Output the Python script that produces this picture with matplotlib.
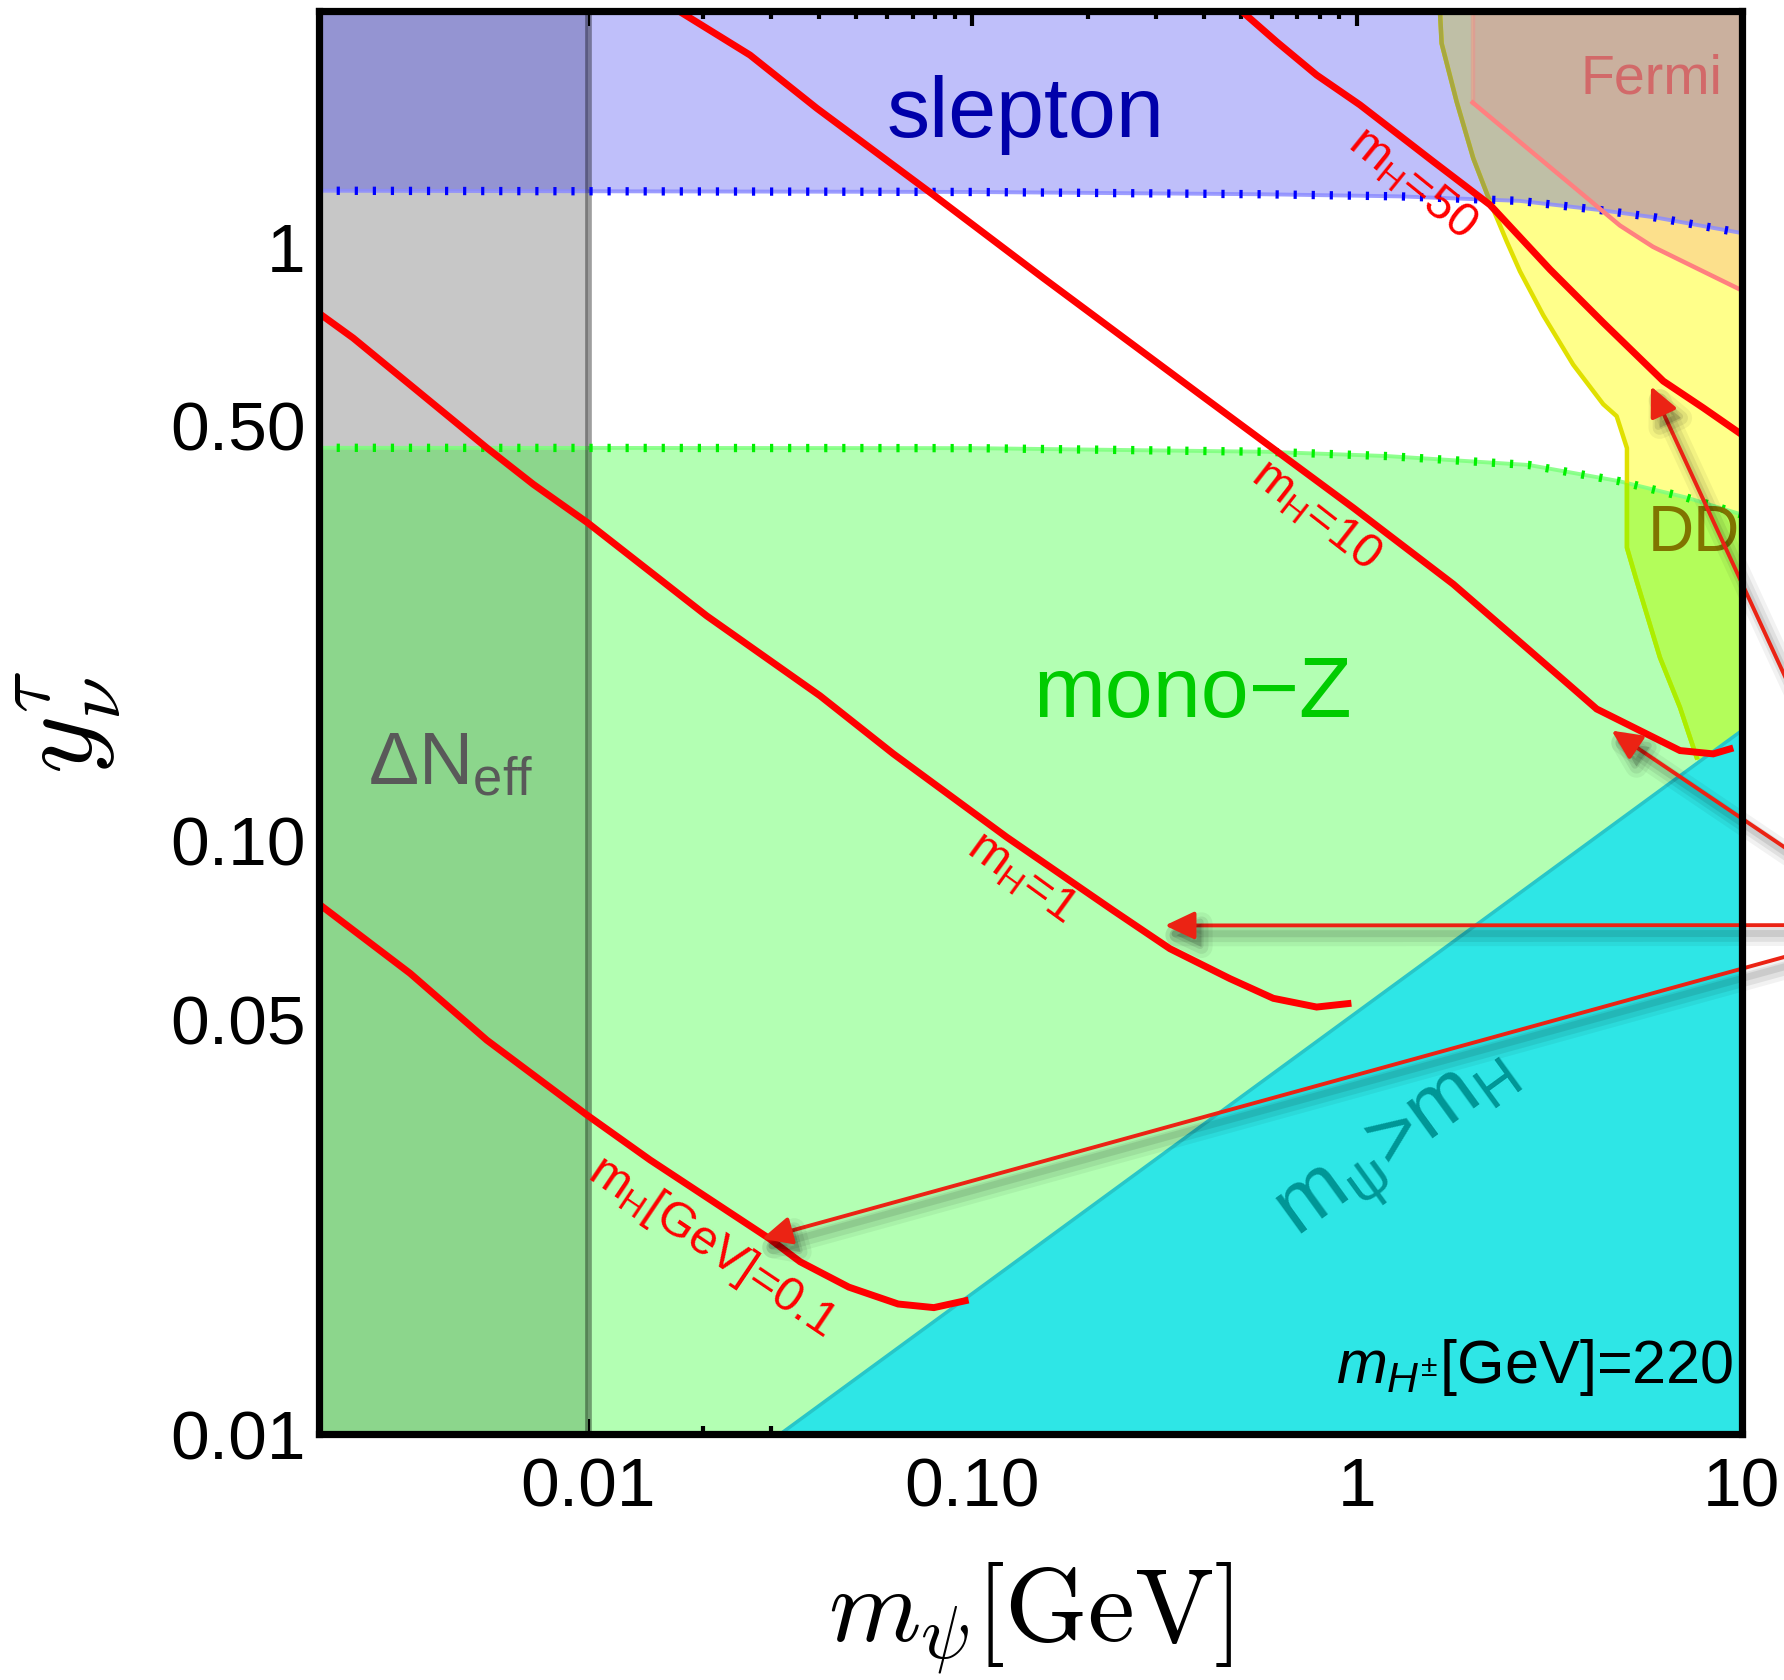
import matplotlib
matplotlib.use('Agg')
import matplotlib.pyplot as plt
from matplotlib.patches import Polygon, FancyArrowPatch
from matplotlib.ticker import FixedLocator, FixedFormatter, NullFormatter
import matplotlib.patheffects as pe
import numpy as np

plt.rcParams['font.family'] = ['Liberation Sans', 'DejaVu Sans']
plt.rcParams['mathtext.fontset'] = 'custom'
plt.rcParams['mathtext.rm'] = 'Liberation Sans'
plt.rcParams['mathtext.it'] = 'Liberation Sans:italic'
plt.rcParams['mathtext.bf'] = 'Liberation Sans:bold'
plt.rcParams['lines.scale_dashes'] = False

# ---------------- data ----------------
x_major = [0.01, 0.1, 1, 10]
x_major_labels = ['0.01', '0.10', '1', '10']
x_minor = [0.003, 0.004, 0.005, 0.006, 0.007, 0.008, 0.009,
           0.02, 0.03, 0.04, 0.05, 0.06, 0.07, 0.08, 0.09,
           0.2, 0.3, 0.4, 0.5, 0.6, 0.7, 0.8, 0.9,
           2, 3, 4, 5, 6, 7, 8, 9]
y_major = [0.01, 0.05, 0.1, 0.5, 1]
y_major_labels = ['0.01', '0.05', '0.10', '0.50', '1']
y_minor = [0.02, 0.03, 0.04, 0.06, 0.07, 0.08, 0.09,
           0.2, 0.3, 0.4, 0.6, 0.7, 0.8, 0.9, 2]

# slepton bound (region above)
slepton_x = [0.002, 0.1, 0.58, 1.3, 2.65, 4.3, 6.0, 10]
slepton_y = [1.243, 1.237, 1.226, 1.216, 1.195, 1.153, 1.12, 1.055]

# mono-Z bound (region below)
monoz_x = [0.002, 0.1, 0.58, 1.2, 2.8, 4.8, 7.2, 10]
monoz_y = [0.4586, 0.458, 0.4516, 0.4441, 0.429, 0.403, 0.378, 0.354]

# Delta N_eff bound (region left of)
dneff_x = 0.01

# m_psi > m_H line (region below/right)
mpsi_x = [0.0317, 10]
mpsi_y = [0.01, 0.153]

# direct detection boundary (region to the right)
dd_x = [1.644, 1.661, 1.817, 2.007, 2.218, 2.452, 2.655, 3.051, 3.651, 4.37,
        4.735, 5.036, 5.036, 5.337, 6.136, 6.918, 7.644]
dd_y = [2.5, 2.201, 1.756, 1.410, 1.192, 1.021, 0.909, 0.767, 0.633, 0.543,
        0.5185, 0.458, 0.3113, 0.2737, 0.2033, 0.1675, 0.138]

# Fermi boundary (region to the upper right)
fermi_x = [2.0, 2.0, 4.83, 5.886, 10]
fermi_y = [2.5, 1.75, 1.086, 1.0, 0.845]

# m_H contours
mh01_x = [0.002, 0.00346, 0.00547, 0.00995, 0.01454, 0.02961, 0.0357, 0.0478, 0.0642, 0.0795, 0.0959]
mh01_y = [0.0782, 0.0597, 0.0461, 0.0345, 0.02896, 0.02137, 0.01951, 0.01768, 0.01656, 0.01633, 0.01677]

mh1_x = [0.002, 0.00246, 0.00547, 0.00723, 0.01, 0.0204, 0.0402, 0.0624, 0.1229, 0.2327,
         0.3267, 0.4678, 0.6065, 0.786, 0.948]
mh1_y = [0.7736, 0.702, 0.4586, 0.398, 0.343, 0.239, 0.1753, 0.1399, 0.1013, 0.0762,
         0.0657, 0.0585, 0.0542, 0.0524, 0.0531]

mh10_x = [0.0172, 0.02645, 0.03943, 0.0792, 0.153, 0.391, 0.9786, 1.781, 2.818, 4.202, 6.918, 8.44, 9.33]
mh10_y = [2.5, 2.104, 1.712, 1.2236, 0.886, 0.564, 0.3634, 0.2702, 0.2087, 0.1665, 0.1417, 0.1399, 0.1426]

mh50_x = [0.50, 0.6187, 0.786, 1.019, 1.58, 2.218, 3.177, 4.37, 6.26, 7.95, 10]
mh50_y = [2.5, 2.215, 1.947, 1.734, 1.392, 1.177, 0.916, 0.745, 0.594, 0.5355, 0.483]

# arrows: common origin (off the figure to the right) and tips on the curves
arrow_origin = (25.8, 0.072)
arrow_tips_x = [5.815, 4.595, 0.3171, 0.02842]
arrow_tips_y = [0.582, 0.1531, 0.0719, 0.02133]

# ---------------- figure ----------------
fig = plt.figure(figsize=(17.84, 16.8), dpi=100)
ax = fig.add_axes([0.1786, 0.1464, 0.7976, 0.8473])
ax.set_xscale('log')
ax.set_yscale('log')
ax.set_xlim(0.002, 10)
ax.set_ylim(0.01, 2.5)

XL, XR, YB, YT = 1e-4, 100.0, 1e-4, 100.0


def mkpoly(pts, **kw):
    return Polygon(np.asarray(pts), closed=True, transform=ax.transData, **kw)


slep_pts = [(XL, slepton_y[0])] + list(zip(slepton_x, slepton_y)) + [(XR, slepton_y[-1]), (XR, YT), (XL, YT)]
monoz_pts = [(XL, monoz_y[0])] + list(zip(monoz_x, monoz_y)) + [(XR, monoz_y[-1]), (XR, YB), (XL, YB)]
strip_pts = [(XL, YB), (dneff_x, YB), (dneff_x, YT), (XL, YT)]
dd_pts = [(dd_x[0], YT)] + list(zip(dd_x, dd_y)) + [(XR, YB), (XR, YT)]
fermi_pts = [(fermi_x[0], YT)] + list(zip(fermi_x, fermi_y)) + [(XR, fermi_y[-1]), (XR, YT)]
cyan_pts = [(mpsi_x[0], mpsi_y[0]), (mpsi_x[1], mpsi_y[1]), (XR, mpsi_y[1]), (XR, YB), (mpsi_x[0], YB)]


def add_fill(pts, color, z, clip=None):
    p = mkpoly(pts, fc=color, ec='none', lw=0, zorder=z)
    ax.add_patch(p)
    if clip is not None:
        p.set_clip_path(mkpoly(clip))
    return p


# base regions
add_fill(slep_pts, '#bfbffa', 1)
add_fill(monoz_pts, '#b3ffb3', 1)
# Delta N_eff strip
add_fill(strip_pts, '#c7c7c7', 2)
add_fill(strip_pts, '#9494d2', 2.1, clip=slep_pts)
add_fill(strip_pts, '#8cd68c', 2.1, clip=monoz_pts)
# DD region
add_fill(dd_pts, '#ffff8a', 2)
add_fill(dd_pts, '#bfbfa6', 2.1, clip=slep_pts)
add_fill(dd_pts, '#b3fd5a', 2.1, clip=monoz_pts)
# Fermi region
add_fill(fermi_pts, '#fce08c', 2.3)
add_fill(fermi_pts, '#cab09e', 2.4, clip=slep_pts)

# boundary lines
ax.plot(slepton_x, slepton_y, color='#8c8cff', lw=2.8, alpha=0.85, zorder=3)
ax.plot(slepton_x, slepton_y, color='#0000ff', lw=6, dashes=(2.3, 10.7),
        dash_capstyle='butt', zorder=3.1)
ax.plot(monoz_x, monoz_y, color='#7dff7d', lw=2.8, alpha=0.85, zorder=3)
ax.plot(monoz_x, monoz_y, color='#00f000', lw=6, dashes=(2.3, 10.7),
        dash_capstyle='butt', zorder=3.1)
ax.axvline(dneff_x, color='k', alpha=0.38, lw=4.8, zorder=3)

ax.plot(dd_x, dd_y, color='#e0e000', lw=3.2, zorder=3)
l2, = ax.plot(dd_x, dd_y, color='#a8a840', lw=3.2, zorder=3.05)
l2.set_clip_path(mkpoly(slep_pts))
l3, = ax.plot(dd_x, dd_y, color='#aaee00', lw=3.2, zorder=3.05)
l3.set_clip_path(mkpoly(monoz_pts))

ax.plot(fermi_x[1:], fermi_y[1:], color='#ff8080', lw=3.2, zorder=3.2)
ax.plot(fermi_x[:2], fermi_y[:2], color='#ff8080', lw=3.2, alpha=0.35, zorder=3.2)

# m_psi > m_H region
add_fill(cyan_pts, '#2ee6e6', 4)
ax.plot(mpsi_x, mpsi_y, color='#28c6c8', lw=2.5, zorder=4.1)

# m_H contours
for cx, cy in [(mh01_x, mh01_y), (mh1_x, mh1_y), (mh10_x, mh10_y), (mh50_x, mh50_y)]:
    ax.plot(cx, cy, color='#ff0000', lw=5.0, zorder=5, solid_joinstyle='miter')

# contour labels
lab_kw = dict(color='#ff0000', fontsize=35, ha='center', va='center',
              rotation_mode='anchor', zorder=6)
ax.text(1.391, 1.278, r'$\mathrm{m}_{\mathrm{H}}$=50', rotation=-39, **lab_kw)
ax.text(0.781, 0.3534, r'$\mathrm{m}_{\mathrm{H}}$=10', rotation=-38, **lab_kw)
ax.text(0.1345, 0.0866, r'$\mathrm{m}_{\mathrm{H}}$=1', rotation=-36, **lab_kw)
ax.text(0.02107, 0.02068, r'$\mathrm{m}_{\mathrm{H}}$[GeV]=0.1', rotation=-34, **lab_kw)

# region labels
ax.text(0.3988, 0.9111, 'slepton', transform=ax.transAxes, color='#0000aa',
        fontsize=62, ha='left', va='baseline', zorder=6)
ax.text(0.5021, 0.5039, 'mono\u2212Z', transform=ax.transAxes, color='#00cc00',
        fontsize=62, ha='left', va='baseline', zorder=6)
ax.text(0.0347, 0.4566, r'$\mathrm{\Delta N}_{\mathrm{eff}}$', transform=ax.transAxes,
        color='#595959', fontsize=54, ha='left', va='baseline', zorder=6)
ax.text(0.8866, 0.9420, 'Fermi', transform=ax.transAxes, color='#d26969',
        fontsize=40, ha='left', va='baseline', zorder=6)
ax.text(0.9343, 0.6205, 'DD', transform=ax.transAxes, color='#807400',
        fontsize=46, ha='left', va='baseline', zorder=6, clip_on=True)
ax.text(1.294, 0.0303, r'$\mathrm{m}_{\mathrm{\psi}}$>$\mathrm{m}_{\mathrm{H}}$',
        color='#009696', fontsize=60, rotation=36, ha='center', va='center',
        rotation_mode='anchor', zorder=6)
ax.text(0.9943, 0.0356, r'$m_{H^{\pm}}$[GeV]=220', transform=ax.transAxes,
        color='k', fontsize=44, ha='right', va='baseline', zorder=6)

# arrows with soft shadow
shadow = [pe.SimpleLineShadow(offset=(5, -7), shadow_color='k', alpha=0.05, linewidth=16),
          pe.SimpleLineShadow(offset=(5, -7), shadow_color='k', alpha=0.07, linewidth=10),
          pe.SimpleLineShadow(offset=(4, -6), shadow_color='k', alpha=0.09, linewidth=5),
          pe.SimplePatchShadow(offset=(5, -7), shadow_rgbFace='k', alpha=0.15),
          pe.Normal()]
for tx, ty in zip(arrow_tips_x, arrow_tips_y):
    arr = FancyArrowPatch(posA=arrow_origin, posB=(tx, ty),
                          arrowstyle='-|>,head_length=18,head_width=8.5',
                          mutation_scale=1, color='#eb2314', lw=2.8,
                          shrinkA=0, shrinkB=0, zorder=8, path_effects=shadow)
    ax.add_patch(arr)
    arr.set_clip_on(False)

# axes styling
for s in ax.spines.values():
    s.set_linewidth(5.2)
    s.set_zorder(10)
ax.xaxis.set_major_locator(FixedLocator(x_major))
ax.xaxis.set_major_formatter(FixedFormatter(x_major_labels))
ax.xaxis.set_minor_locator(FixedLocator(x_minor))
ax.xaxis.set_minor_formatter(NullFormatter())
ax.yaxis.set_major_locator(FixedLocator(y_major))
ax.yaxis.set_major_formatter(FixedFormatter(y_major_labels))
ax.yaxis.set_minor_locator(FixedLocator(y_minor))
ax.yaxis.set_minor_formatter(NullFormatter())
ax.tick_params(which='both', direction='in', top=True, right=True, width=3, color='k')
ax.tick_params(which='major', length=11, labelsize=50)
ax.tick_params(which='minor', length=6)
ax.tick_params(axis='x', which='major', pad=16)
ax.tick_params(axis='y', which='major', pad=9.5)

ax.set_xlabel(r'$m_{\psi}[\mathrm{GeV}]$', fontsize=76, math_fontfamily='cm')
ax.set_ylabel(r'$y_{\nu}^{\tau}$', fontsize=80, math_fontfamily='cm')
ax.xaxis.set_label_coords(0.5, -0.089)
ax.yaxis.set_label_coords(-0.137, 0.5)

fig.savefig('out.png', dpi=100, facecolor='white')
